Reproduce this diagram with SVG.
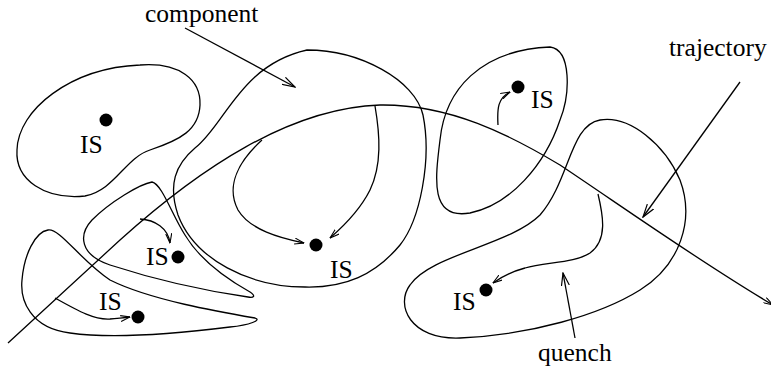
<svg xmlns="http://www.w3.org/2000/svg" width="771" height="370" viewBox="0 0 771 370">
<style>
.blob{fill:none;stroke:#000;stroke-width:1.3}
.ln{fill:none;stroke:#000;stroke-width:1.3}
.big{marker-end:url(#ah)}
.sm{marker-end:url(#as)}
.dot{fill:#000}
text{font-family:"Liberation Serif","Times New Roman",serif;font-size:25.5px;fill:#000}
</style>
<defs>
<marker id="ah" viewBox="0 0 14 9" refX="13" refY="4.5" markerWidth="14" markerHeight="9" orient="auto" markerUnits="userSpaceOnUse"><path d="M0,0.5 L13,4.5 L0,8.5" fill="none" stroke="#000" stroke-width="1.2"/></marker>
<marker id="as" viewBox="0 0 10 7" refX="9.5" refY="3.5" markerWidth="10" markerHeight="7" orient="auto" markerUnits="userSpaceOnUse"><path d="M0,0.5 L9.5,3.5 L0,6.5" fill="none" stroke="#000" stroke-width="1.1"/></marker>
</defs>
<rect width="771" height="370" fill="#fff"/>
<g id="compA">
<path class="blob" d="M140 65 C180 62 201 80 200 105 C199 130 180 140 150 150 C125 158 115 190 85 196 C45 200 15 180 17 150 C18 110 70 68 140 65 Z"/>
<circle class="dot" cx="106" cy="120" r="6.5"/>
<text x="80" y="153">IS</text>
</g>
<g id="compB">
<path class="blob" d="M307 50 C360 50 415 80 423 115 C432 160 420 220 400 245 C375 275 345 288 305 287 C250 287 195 260 178 215 C168 185 175 165 195 148 C225 125 240 65 307 50 Z"/>
<circle class="dot" cx="316" cy="245" r="6.5"/>
<text x="330" y="278">IS</text>
</g>
<g id="compC">
<path class="blob" d="M550 47 C572 50 570 95 560 120 C545 165 510 205 470 213 C430 220 435 180 440 140 C445 90 480 50 550 47 Z"/>
<circle class="dot" cx="518" cy="87" r="6.5"/>
<text x="531" y="108">IS</text>
</g>
<g id="compD">
<path class="blob" d="M600 120 C630 115 665 145 680 180 C695 220 680 265 640 290 C600 315 530 335 460 338 C410 340 395 305 410 285 C430 255 510 245 540 215 C570 180 570 125 600 120 Z"/>
<circle class="dot" cx="486" cy="290" r="6.5"/>
<text x="453" y="310">IS</text>
</g>
<g id="compE">
<path class="blob" d="M152 182 C162 184 172 215 185 235 C200 260 225 278 250 292 C256 296 254 298 248 297 C200 290 150 278 110 265 C80 255 78 235 92 220 C110 202 140 184 152 182 Z"/>
<circle class="dot" cx="178" cy="257" r="6.5"/>
<text x="146" y="265">IS</text>
</g>
<g id="compF">
<path class="blob" d="M48 230 C60 228 80 260 110 280 C150 300 220 312 255 318 C262 320 250 325 230 327 C190 332 120 340 70 333 C30 328 20 300 22 280 C24 255 35 232 48 230 Z"/>
<circle class="dot" cx="138" cy="317" r="6.5"/>
<text x="99" y="310">IS</text>
</g>
<g id="connectors">
<path class="ln sm" d="M8 343 L120 240 C200 168 290 108 380 105 C450 104 510 135 560 165 C620 205 700 262 773 305"/>
<path class="ln sm" d="M140 219 C155 220 168 228 170 243"/>
<path class="ln sm" d="M55 298 C80 312 95 320 110 319 C118 318 124 318 130 317"/>
<path class="ln sm" d="M262 140 C240 160 225 185 238 210 C250 230 280 238 304 243"/>
<path class="ln sm" d="M375 106 C380 135 382 165 370 190 C360 210 345 225 330 238"/>
<path class="ln sm" d="M498 125 C497 108 498 98 510 92"/>
<path class="ln sm" d="M598 194 C603 215 608 240 590 253 C575 263 545 262 525 268 C510 272 500 278 493 283"/>
<path class="ln big" d="M185 28 L295 87"/>
<path class="ln big" d="M740 82 L643 217"/>
<path class="ln big" d="M575 338 L563 273"/>
</g>
<g id="labels">
<text x="145" y="22">component</text>
<text x="669" y="56">trajectory</text>
<text x="538" y="361">quench</text>
</g>
</svg>
